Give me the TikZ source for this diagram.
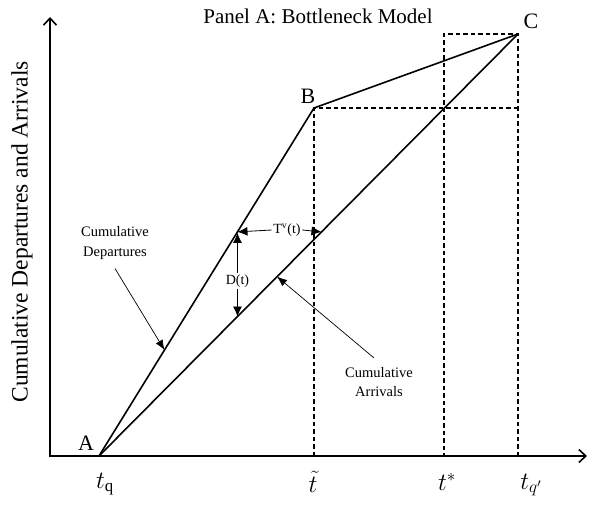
\documentclass[tikz,border=0pt]{standalone}
\usepackage{fontspec}
\setmainfont{Liberation Serif}
\usetikzlibrary{arrows.meta,calc}
\begin{document}
\begin{tikzpicture}[x=1pt,y=-1pt,
  axisline/.style={line width=1.6pt,{Straight Barb[length=7pt,width=13pt]}-{Straight Barb[length=7pt,width=13pt]}},
  mainline/.style={line width=1.6pt,line join=round},
  dashline/.style={line width=1.4pt,dash pattern=on 4.5pt off 3pt},
  dimarrow/.style={line width=0.8pt,-{Latex[length=10pt,width=9pt]}},
  leader/.style={line width=0.7pt,-{Latex[length=10pt,width=8pt]}},
  smalltext/.style={font=\fontsize{14.5}{19.5}\selectfont,align=center,inner sep=1pt},
  dimtext/.style={font=\fontsize{14}{16}\selectfont,fill=white,inner sep=1.5pt},
  pointlabel/.style={font=\fontsize{22}{24}\selectfont,inner sep=0pt},
  ticklabel/.style={font=\fontsize{24}{28}\selectfont,inner sep=0pt}]
\useasboundingbox (0,0) rectangle (597,508);
% axes
\coordinate (O) at (50,456);
\coordinate (Ytop) at (50,17);
\coordinate (Xend) at (587,456);
\draw[axisline] (Xend) -- (O) -- (Ytop);
% key points
\coordinate (A) at (99,456);
\coordinate (B) at (314,108);
\coordinate (C) at (518,34);
\coordinate (Ttop) at (444,34);
\coordinate (Cmid) at (518,108);
\coordinate (tB) at (314,456);
\coordinate (tS) at (444,456);
\coordinate (tC) at (518,456);
% dashed guides
\draw[dashline] (tB) -- (B) -- (Cmid);
\draw[dashline] (tC) -- (C) -- (Ttop) -- (tS);
% curves
\draw[mainline] (A) -- (B) -- (C);
\draw[mainline] (A) -- (C);
% title and labels
\node[font=\fontsize{21}{24}\selectfont] (title) at (318,16) {Panel A: Bottleneck Model};
\node[pointlabel] (lA) at (86,443) {A};
\node[pointlabel] (lB) at (308,96) {B};
\node[pointlabel] (lC) at (531,21) {C};
\node[font=\fontsize{23.5}{26}\selectfont,rotate=90] (ylab) at (22,232) {Cumulative Departures and Arrivals};
% tick labels
\node[ticklabel] (tq) at (105,484) {$t_{\mathrm{q}}$};
\node[ticklabel] (ttil) at (313,482) {$\tilde{t}$};
\node[ticklabel] (tstar) at (447,482) {$t^{*}$};
\node[ticklabel] (tqp) at (531,485) {$t_{q'}$};
% T^v(t) and D(t)
\coordinate (P1) at ($(A)!0.644!(B)$);
\coordinate (P2) at ($(A)!0.531!(C)$);
\coordinate (P3) at ($(A)!0.3305!(C)$);
\node[dimtext] (tv) at (287,230) {T\textsuperscript{v}(t)};
\draw[dimarrow] (tv.west) -- (P1);
\draw[dimarrow] (tv.east) -- (P2);
\node[dimtext] (dt) at ($(P1)!0.58!(P3)$) {D(t)};
\draw[dimarrow] (dt.north) -- ([yshift=-1pt]P1);
\draw[dimarrow] (dt.south) -- (P3);
% cumulative labels
\node[smalltext] (cdep) at (115,243) {Cumulative\\Departures};
\node[smalltext] (carr) at (379,382) {Cumulative\\Arrivals};
\coordinate (P4) at ($(A)!0.3046!(B)$);
\coordinate (P5) at ($(A)!0.425!(C)$);
\draw[leader] ([yshift=-8pt]cdep.south) -- (P4);
\draw[leader] ([xshift=-5pt,yshift=8pt]carr.north) -- (P5);
\end{tikzpicture}
\end{document}
